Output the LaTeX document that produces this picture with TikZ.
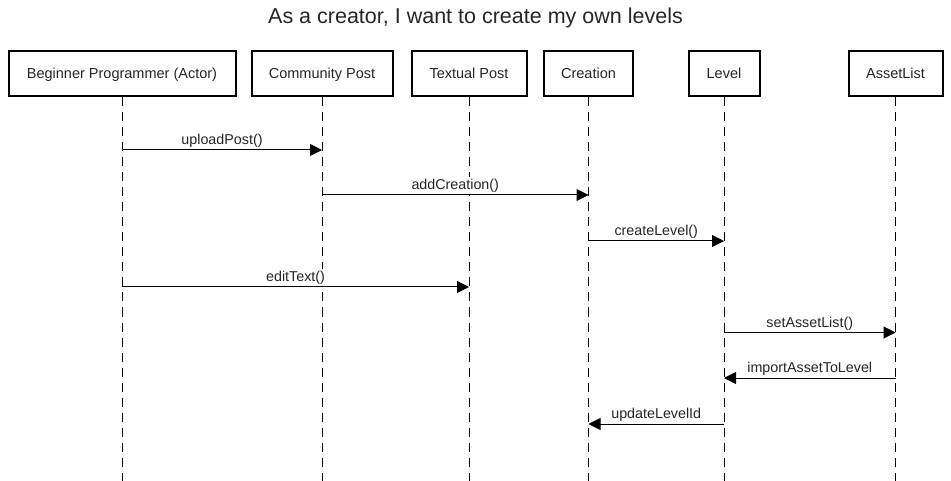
\documentclass[tikz,border=0pt]{standalone}
\usepackage{fontspec}
\setmainfont{Liberation Sans}
\usetikzlibrary{arrows.meta}
\begin{document}
\begin{tikzpicture}[x=1pt,y=-1pt,
  objbox/.style={draw=black,line width=2pt,fill=white,inner sep=0pt,minimum height=45pt,
    text height=12pt,text depth=2pt,
    font=\fontsize{14.5}{17}\selectfont,text=black!85},
  lifeline/.style={draw=black,line width=1pt,dash pattern=on 9pt off 6pt},
  msg/.style={draw=black,line width=1pt,-{Triangle[length=12pt,width=12pt]}},
  msglabel/.style={font=\fontsize{14.3}{16}\selectfont,text=black!85,above=0.5pt,
    fill=white,inner xsep=1pt,inner ysep=1.5pt,text height=10.5pt,text depth=3pt}]
\useasboundingbox (0,0) rectangle (951,481);
\node[font=\fontsize{21.5}{24}\selectfont,text=black!85] (title) at (475.5,18) {As a creator, I want to create my own levels};
\node[objbox,minimum width=227pt] (bp) at (122,74) {Beginner Programmer (Actor)};
\node[objbox,minimum width=141pt] (cp) at (322,74) {Community Post};
\node[objbox,minimum width=115pt] (tp) at (469,74) {Textual Post};
\node[objbox,minimum width=89pt] (cr) at (588.5,74) {Creation};
\node[objbox,minimum width=71pt] (lv) at (724,74) {Level};
\node[objbox,minimum width=94pt] (al) at (895.5,74) {AssetList};
\foreach \n in {bp,cp,tp,cr,lv,al}{
  \coordinate (\n end) at (\n.south |- 0,481);
  \draw[lifeline] (\n.south) -- (\n end);
}
\coordinate (m1) at (0,150);
\coordinate (m2) at (0,195);
\coordinate (m3) at (0,241);
\coordinate (m4) at (0,287);
\coordinate (m5) at (0,332.5);
\coordinate (m6) at (0,378);
\coordinate (m7) at (0,424);
\draw[msg] (bp.south |- m1) -- node[msglabel] {uploadPost()} (cp.south |- m1);
\draw[msg] (cp.south |- m2) -- node[msglabel] {addCreation()} (cr.south |- m2);
\draw[msg] (cr.south |- m3) -- node[msglabel] {createLevel()} (lv.south |- m3);
\draw[msg] (bp.south |- m4) -- node[msglabel] {editText()} (tp.south |- m4);
\draw[msg] (lv.south |- m5) -- node[msglabel] {setAssetList()} (al.south |- m5);
\draw[msg] (al.south |- m6) -- node[msglabel] {importAssetToLevel} (lv.south |- m6);
\draw[msg] (lv.south |- m7) -- node[msglabel] {updateLevelId} (cr.south |- m7);
\end{tikzpicture}
\end{document}
